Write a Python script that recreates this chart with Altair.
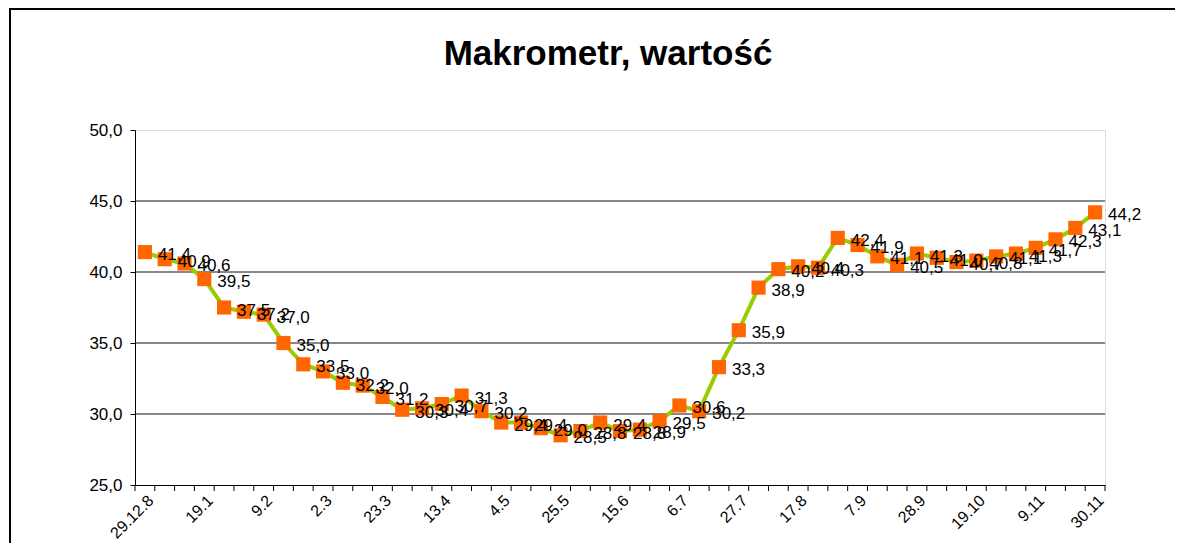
import altair as alt
import pandas as pd

dates = ["29.12.8", "5.1", "12.1", "19.1", "26.1", "2.2", "9.2", "16.2", "23.2", "2.3",
         "9.3", "16.3", "23.3", "30.3", "6.4", "13.4", "20.4", "27.4", "4.5", "11.5",
         "18.5", "25.5", "1.6", "8.6", "15.6", "22.6", "29.6", "6.7", "13.7", "20.7",
         "27.7", "3.8", "10.8", "17.8", "24.8", "31.8", "7.9", "14.9", "21.9", "28.9",
         "5.10", "12.10", "19.10", "26.10", "2.11", "9.11", "16.11", "23.11", "30.11"]

values = [41.4, 40.9, 40.6, 39.5, 37.5, 37.2, 37.0, 35.0, 33.5, 33.0,
          32.2, 32.0, 31.2, 30.3, 30.4, 30.7, 31.3, 30.2, 29.4, 29.4,
          29.0, 28.5, 28.8, 29.4, 28.8, 28.9, 29.5, 30.6, 30.2, 33.3,
          35.9, 38.9, 40.2, 40.4, 40.3, 42.4, 41.9, 41.1, 40.5, 41.3,
          41.0, 40.7, 40.8, 41.1, 41.3, 41.7, 42.3, 43.1, 44.2]

y_ticks = [25, 30, 35, 40, 45, 50]
grid_values = [30, 35, 40, 45]

df = pd.DataFrame({"i": list(range(len(dates))), "date": dates, "v": values})
bounds = pd.DataFrame({"b": [k - 0.5 for k in range(len(dates) + 1)]})
grid_df = pd.DataFrame({"g": grid_values})

FONT = "Liberation Sans"
label_js = "[" + ",".join("'" + d + "'" for d in dates) + "][datum.value]"

xscale = alt.Scale(domain=[-0.5, len(dates) - 0.5], nice=False, zero=False)
yscale = alt.Scale(domain=[25, 50], nice=False, zero=False)

x_enc = alt.X("i:Q", scale=xscale, axis=alt.Axis(
    values=list(range(0, len(dates), 3)), labelExpr=label_js, title=None,
    ticks=False, grid=False, domain=True, domainColor="black", domainWidth=1,
    labelAngle=-45, labelAlign="right", labelBaseline="top", labelPadding=7,
    labelFont=FONT, labelFontSize=16, labelColor="black", labelOverlap=False))
y_enc = alt.Y("v:Q", scale=yscale, axis=alt.Axis(
    values=y_ticks, labelExpr="replace(format(datum.value, '.1f'), '.', ',')",
    title=None, grid=False, domain=True, domainColor="black", domainWidth=1,
    ticks=True, tickSize=5, tickColor="black", labelPadding=8,
    labelFont=FONT, labelFontSize=17, labelColor="black"))

base = alt.Chart(df)

grid = alt.Chart(grid_df).mark_rule(color="#111111", strokeWidth=1).encode(
    y=alt.Y("g:Q", scale=yscale), x=alt.value(0), x2=alt.value(970))

line = base.mark_line(color="#99CC00", strokeWidth=4).encode(x=x_enc, y=y_enc)

points = base.mark_point(shape="square", filled=True, size=200, color="#FF6600",
                         opacity=1).encode(x=x_enc, y=y_enc)

labels = base.transform_calculate(
    lab="replace(format(datum.v, '.1f'), '.', ',')"
).mark_text(align="left", baseline="middle", dx=13, dy=3, font=FONT,
            fontSize=17, color="black").encode(x=x_enc, y=y_enc, text="lab:N")

ticks = alt.Chart(bounds).mark_rule(color="black", strokeWidth=1).encode(
    x=alt.X("b:Q", scale=xscale), y=alt.value(355), y2=alt.value(361))

frame = alt.Chart(grid_df).mark_rect(fill=None, stroke="black", strokeWidth=1.5).encode(
    x=alt.value(-125), x2=alt.value(1042), y=alt.value(-121), y2=alt.value(440))

chart = alt.layer(frame, grid, line, points, labels, ticks).properties(
    width=970, height=355,
    title=alt.TitleParams("Makrometr, wartość", font="Liberation Sans",
                          fontSize=35, fontWeight="bold", color="black",
                          anchor="middle", frame="group", offset=-64, dx=-12),
    autosize=alt.AutoSizeParams(type="none"),
    padding={"left": 127, "top": 122, "right": 70, "bottom": 58},
).configure_view(stroke=None).configure(background="white")

chart.save("out.html", embed_options={"renderer": "svg", "actions": False})
